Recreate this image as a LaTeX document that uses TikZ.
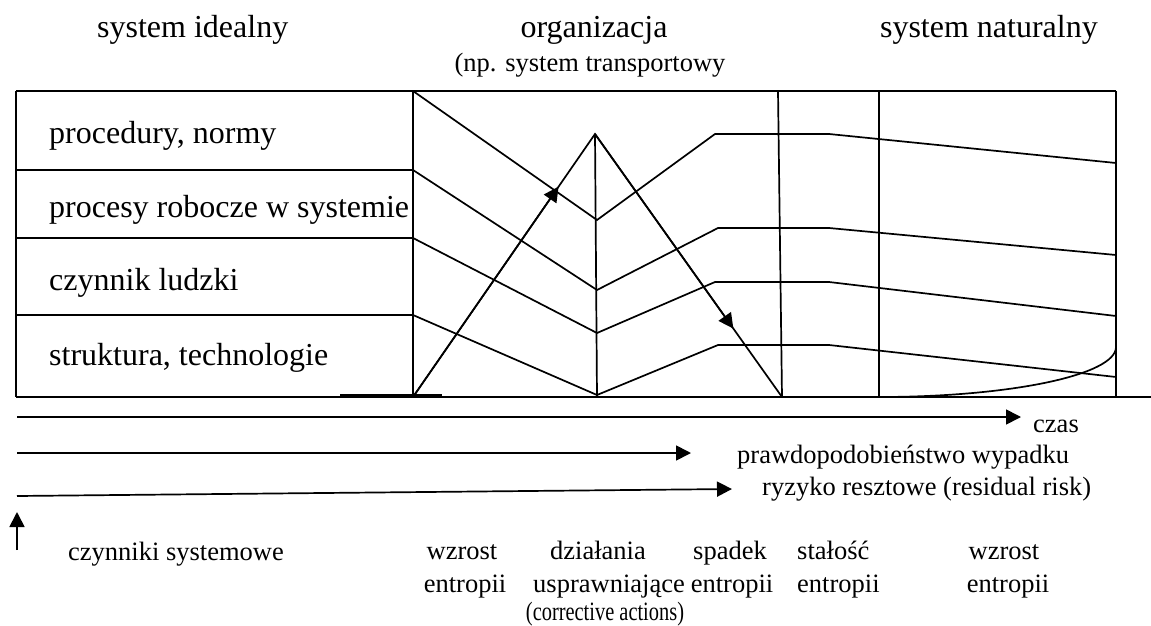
\documentclass[tikz,border=0pt]{standalone}
\usepackage{fontspec}
\setmainfont{Liberation Serif}
\usetikzlibrary{arrows.meta,calc}
\begin{document}
\begin{tikzpicture}[x=1pt,y=-1pt,
  ln/.style={line width=1.7pt},
  big/.style={font=\fontsize{32}{36}\selectfont, inner sep=0pt},
  small/.style={font=\fontsize{26.5}{32}\selectfont, inner sep=0pt},
  arr/.style={ln,-{Triangle[length=15pt,width=15pt]}},
]
\useasboundingbox (0,0) rectangle (1151,626);
% frame coordinates
\coordinate (tl) at (16,91);
\coordinate (tr) at (1116,91);
\coordinate (bl) at (16,397);
\coordinate (br) at (1151,397);
\coordinate (m0t) at (413,91);
\coordinate (m0b) at (413,397);
\coordinate (apex) at (595,134);
\coordinate (cb) at (597,397);
\coordinate (foot) at (782,397);
% outer lines
\draw[ln] (tl) -- (tr);
\draw[ln] (tl) -- (bl);
\draw[ln] (bl) -- (br);
\draw[ln] (m0t) -- (m0b);
\draw[line width=1.2pt] (340,395) -- (442,395);
\draw[ln] (778,91) -- (foot);
\draw[ln] (879,91) -- (879,397);
\draw[ln] (tr) -- (1116,397);
% row dividers
\draw[ln] (16,170) -- (413,170);
\draw[ln] (16,238) -- (413,238);
\draw[ln] (16,315) -- (413,315);
% entropy lines
\draw[ln] (m0t) -- (597,220) -- (715,134) -- (829,134) -- (1116,163);
\draw[ln] (413,170) -- (597,290) -- (718,228) -- (829,228) -- (1116,255);
\draw[ln] (413,238) -- (597,333) -- (715,282) -- (829,282) -- (1116,316);
\draw[ln] (413,315) -- (597,395) -- (718,345) -- (829,345) -- (1116,377);
% triangle and centre
\draw[ln] (apex) -- (cb);
\draw[ln] (m0b) -- (apex) -- (foot);
\draw[arr] (m0b) -- ($(m0b)!0.8!(apex)$);
\draw[arr] (apex) -- ($(apex)!0.74!(foot)$);
% curve
\draw[ln] (879,397) .. controls (1010,397) and (1116,375) .. (1116,347);
% box labels
\node[big,anchor=base west] (l1) at (49,143) {procedury, normy};
\node[big,anchor=base west] (l2) at (49,217) {procesy robocze w systemie};
\node[big,anchor=base west] (l3) at (49,290) {czynnik ludzki};
\node[big,anchor=base west] (l4) at (49,365) {struktura, technologie};
% top labels
\node[big,anchor=base west] (t1) at (97,38) {system idealny};
\node[big,anchor=base] (t2) at (594,38) {organizacja};
\node[small,anchor=base] (t2b) at (590,72) {(np. system transportowy};
\node[big,anchor=base east] (t3) at (1098,38) {system naturalny};
% time arrows
\coordinate (a1s) at (17,417);
\coordinate (a1e) at (1021,417);
\coordinate (a2s) at (17,453);
\coordinate (a2e) at (691,453);
\coordinate (a3s) at (17,496);
\coordinate (a3e) at (732,489);
\coordinate (a4s) at (17,550);
\coordinate (a4e) at (17,512);
\draw[arr] (a1s) -- (a1e);
\draw[arr] (a2s) -- (a2e);
\draw[arr] (a3s) -- (a3e);
\draw[arr] (a4s) -- (a4e);
\node[small,anchor=base west] (czas) at (1033,432) {czas};
\node[small,anchor=base west] (pw) at (737,463) {prawdopodobieństwo wypadku};
\node[small,anchor=base west] (rr) at (762,495) {ryzyko resztowe (residual risk)};
% bottom labels
\node[small,anchor=base west] (cs) at (68,560) {czynniki systemowe};
\node[small,anchor=base] (w1) at (462,559) {wzrost};
\node[small,anchor=base] (e1) at (465,592) {entropii};
\node[small,anchor=base] (d1) at (598,559) {działania};
\node[small,anchor=base] (d2) at (609,592) {usprawniające};
\node[small,anchor=base] (d3) at (605,620) {\scalebox{0.77}[1]{(corrective actions)}};
\node[small,anchor=base] (s1) at (730,559) {spadek};
\node[small,anchor=base] (s2) at (732,592) {entropii};
\node[small,anchor=base west] (st1) at (797,559) {stałość};
\node[small,anchor=base west] (st2) at (797,592) {entropii};
\node[small,anchor=base] (w2) at (1004,559) {wzrost};
\node[small,anchor=base] (e2) at (1008,592) {entropii};
\end{tikzpicture}
\end{document}
